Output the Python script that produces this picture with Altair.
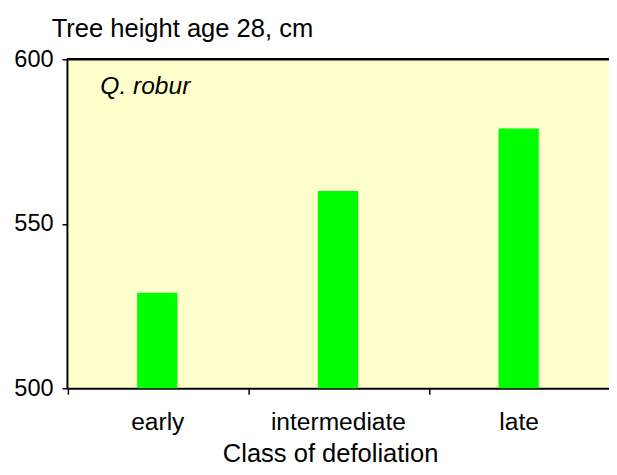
import altair as alt
import pandas as pd

categories = ["early", "intermediate", "late"]
heights = [529, 560, 579]

df = pd.DataFrame({"cls": categories, "h": heights})
FONT = "Liberation Sans, Arial"

bars = alt.Chart(df).mark_bar(color="#00FF00", width=41, clip=True).encode(
    x=alt.X("cls:N", sort=categories,
            scale=alt.Scale(paddingInner=0, paddingOuter=0),
            axis=alt.Axis(title="Class of defoliation", labelAngle=0,
                          labelFont=FONT, labelFontSize=25, labelColor="black",
                          labelPadding=16, tickOffset=-91.5, labelOffset=91.5,
                          tickSize=6, tickColor="black", tickWidth=1.5,
                          domainColor="black", domainWidth=2,
                          titleFont=FONT, titleFontSize=26, titleFontWeight="normal",
                          titleColor="black", titleBaseline="alphabetic",
                          titleX=268, titleY=75, titleAlign="center")),
    y=alt.Y("h:Q", scale=alt.Scale(domain=[500, 600], nice=False, zero=False),
            axis=alt.Axis(values=[500, 550, 600], title="Tree height age 28, cm",
                          grid=False, labelFont=FONT, labelFontSize=24,
                          labelColor="black", labelPadding=9, tickSize=5,
                          tickColor="black", tickWidth=1.5,
                          domainColor="black", domainWidth=2,
                          titleFont=FONT, titleFontSize=26, titleFontWeight="normal",
                          titleColor="black", titleAngle=0, titleAlign="left",
                          titleBaseline="alphabetic", titleX=-16, titleY=-23)),
)

top_line = alt.Chart(pd.DataFrame({"v": [600]})).mark_rule(
    color="black", strokeWidth=2.5).encode(y=alt.Y("v:Q"))

label = alt.Chart(pd.DataFrame({"t": ["Q. robur"]})).mark_text(
    font=FONT, fontSize=25, fontStyle="italic", align="left",
    baseline="alphabetic", color="black").encode(
    x=alt.value(34), y=alt.datum(589.3), text="t:N")

chart = alt.layer(bars, top_line, label).properties(
    width=552, height=335,
    autosize=alt.AutoSizeParams(type="none"),
    padding={"left": 60, "top": 48, "right": 0, "bottom": 80},
).configure_view(fill="#FFFFCC", stroke=None)

chart.save("out.html", embed_options={"renderer": "svg", "actions": False})
